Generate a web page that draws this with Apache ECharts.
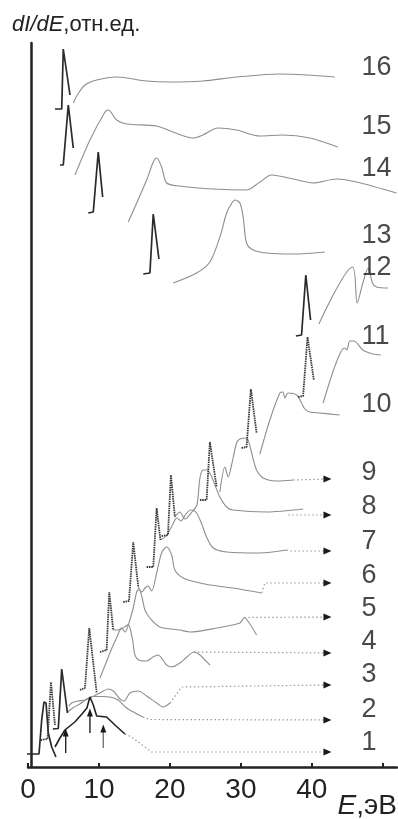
<!DOCTYPE html>
<html>
<head>
<meta charset="utf-8">
<script src="https://cdn.jsdelivr.net/npm/echarts@6/dist/echarts.min.js"></script>
<style>
html, body { margin: 0; padding: 0; background: #fff; }
#chart { width: 398px; height: 819px; }
</style>
</head>
<body>
<div id="chart"></div>
<script>
// energy E (eV) vs dI/dE (rel. units, spectra stacked upward)
var xTicks = [0, 10, 20, 30, 40, 50];
var xLabels = [0, 10, 20, 30, 40];

// sharp primary peaks
var peak1 = [[-0.4,1.3],[1.55,1.3],[1.93,4.7],[2.25,6.5],[2.54,6.4],[2.86,3.4],[3.34,2.0],[3.94,1.0]];
var peak2 = [[1.8,2.7],[2.75,2.8],[3.24,8.5],[3.45,8.45],[3.8,4.2]];
var peak3 = [[3.5,3.8],[4.27,3.85],[4.75,9.8],[4.93,9.7],[5.56,5.4]];
var peak4 = [[7.32,7.7],[8.03,7.9],[8.63,13.9],[8.87,13.8],[9.68,7.4]];
var peak5 = [[10.14,11.5],[11.08,11.7],[11.45,17.5],[11.69,17.5],[12.01,13.7]];
var peak6 = [[13.42,16.5],[14.23,16.6],[14.83,22.5],[15.07,22.5],[15.54,18.0]];
var peak7 = [[16.72,20.0],[17.65,20.0],[18.13,25.9],[18.35,25.8],[18.66,22.7]];
var peak8 = [[18.83,23.1],[19.72,23.2],[20.14,29.2],[20.35,29.1],[20.7,25.0]];
var peak9 = [[24.23,26.7],[25.17,26.7],[25.63,32.5],[25.85,32.5],[26.58,28.0]];
var peak10 = [[30.1,31.9],[30.8,32.0],[31.41,37.8],[31.62,37.7],[32.21,33.4]];
var peak11 = [[38.07,37.0],[38.77,37.1],[39.39,43.0],[39.65,42.9],[40.28,38.7]];
var peak12 = [[37.75,43.1],[38.55,43.2],[39.15,49.2],[39.37,49.1],[39.82,44.7]];
var peak13 = [[16.24,49.3],[17.18,49.4],[17.65,55.3],[17.89,55.2],[18.45,50.8]];
var peak14 = [[8.49,55.4],[9.2,55.5],[9.9,61.5],[10.07,61.5],[10.52,57.0]];
var peak15 = [[4.51,60.2],[4.97,60.2],[5.68,66.2],[5.85,66.1],[6.38,61.9]];
var peak16 = [[3.8,65.8],[4.75,65.8],[4.97,71.8],[5.14,71.7],[5.92,67.2]];

// loss structures
var loss1 = [[3.8,2.0],[4.5,2.9],[5.2,3.7],[6.6,4.5],[7.6,5.3],[8.3,5.9],[8.73,7.0],[9.2,6.2],[9.68,5.1],[11.08,5.0],[12.25,4.2],[13.66,3.3]];
var loss2 = [[5.6,5.5],[6.3,5.9],[7.3,6.3],[8.3,6.8],[9.15,7.05],[10.4,7.05],[11.55,7.0],[12.7,6.7],[13.9,5.9],[15.1,5.4],[16.2,5.0]];
var loss3 = [[5.77,6.1],[6.15,6.4],[7.04,6.6],[8.03,6.7],[8.97,7.0],[10.14,7.4],[11.31,7.8],[12.01,7.6],[12.96,6.8],[13.52,6.6],[14.37,7.4],[15.54,7.6],[16.72,7.1],[18.13,6.4],[19.06,6.0],[20.0,6.4]];
var loss4 = [[10.14,8.9],[10.99,10.4],[11.83,11.9],[12.54,13.0],[12.96,13.7],[13.38,13.9],[13.8,14.1],[14.13,14.25],[14.44,13.7],[14.79,12.5],[15.07,11.2],[15.77,10.65],[16.76,10.6],[17.61,11.0],[18.35,11.2],[19.01,10.7],[19.54,10.2],[20.28,10.0],[21.41,10.4],[22.39,11.0],[23.38,11.5],[24.23,11.2],[24.93,10.7],[25.63,10.2]];
var loss5 = [[12.01,13.7],[12.72,13.7],[13.2,13.9],[13.66,13.5],[14.13,14.2],[14.83,15.9],[15.31,17.5],[15.63,17.8],[16.06,17.0],[16.48,15.7],[17.18,14.9],[18.59,14.0],[21.41,13.7],[22.82,13.5],[26.58,13.9],[29.86,14.4],[30.49,14.95],[31.27,14.3],[32.21,13.2]];
var loss6 = [[15.54,18.0],[16.06,17.5],[16.48,17.9],[16.94,18.1],[17.42,17.6],[18.13,19.4],[18.83,21.4],[19.54,22.0],[20.24,21.2],[20.7,19.7],[21.87,18.9],[24.23,18.4],[25.63,18.2],[28.87,17.9],[32.92,17.4]];
var loss7 = [[18.66,22.7],[19.44,23.1],[20.28,24.1],[20.99,24.9],[21.55,24.6],[22.25,25.3],[22.96,25.7],[23.66,25.5],[24.37,24.5],[25.17,23.0],[26.1,21.9],[27.99,21.5],[32.68,21.4],[36.44,21.7]];
var loss8 = [[20.7,25.0],[21.41,25.5],[22.11,24.8],[23.1,25.5],[23.8,26.2],[24.23,28.9],[24.65,29.7],[25.21,29.7],[25.77,29.2],[26.34,28.2],[27.04,27.0],[27.99,26.0],[28.87,25.7],[33.62,25.5],[38.77,25.8]];
var loss9 = [[27.04,27.5],[27.75,30.0],[28.21,29.0],[28.69,30.2],[29.39,32.4],[29.86,32.8],[30.8,32.9],[31.27,32.1],[31.69,30.9],[32.21,29.7],[33.14,28.9],[35.03,28.6],[37.37,28.7]];
var loss10 = [[32.68,31.3],[34.08,34.7],[35.49,37.4],[35.92,37.5],[36.2,36.9],[36.66,37.4],[37.85,37.2],[38.55,36.4],[39.01,35.8],[39.72,35.5],[41.13,35.4],[43.94,35.2]];
var loss11 = [[41.59,36.4],[42.96,39.5],[44.08,41.5],[44.65,41.9],[44.93,41.7],[45.35,42.6],[45.92,42.6],[47.18,41.7],[48.59,41.3],[49.72,41.2]];
var loss12 = [[40.99,44.3],[45.73,50.0],[46.38,46.4],[47.23,48.5],[47.93,49.9],[48.55,48.4],[49.11,48.0],[50.75,47.9]];
var loss13 = [[20.46,48.4],[23.76,49.4],[25.63,50.5],[27.04,53.0],[27.99,55.4],[28.73,56.4],[29.15,56.7],[29.86,56.4],[30.32,55.0],[30.8,52.4],[31.73,51.7],[33.62,51.4],[37.37,51.3],[41.83,51.5]];
var loss14 = [[14.13,54.5],[16.72,58.7],[17.65,60.5],[18.13,60.9],[18.83,60.0],[19.54,58.4],[21.41,58.1],[26.1,57.8],[30.8,57.7],[32.68,58.5],[34.32,59.2],[37.37,58.8],[40.18,58.4],[43.48,58.8],[46.3,58.5],[51.93,57.4]];
var loss15 = [[6.62,59.2],[8.73,62.7],[10.85,65.5],[11.31,65.7],[12.49,64.7],[13.9,64.3],[18.13,64.1],[20.42,63.5],[23.24,62.9],[24.65,63.2],[26.76,63.9],[29.39,63.7],[32.68,63.1],[35.92,63.2],[39.72,62.9],[43.66,62.0]];
var loss16 = [[6.38,66.4],[7.04,67.3],[8.03,68.2],[9.68,68.7],[12.49,69.0],[16.72,68.6],[20.0,68.5],[24.65,68.6],[29.39,69.0],[35.49,69.3],[39.25,69.2],[43.24,69.0]];

// dotted continuations ending in arrows
var tail1 = [[13.66,3.3],[14.6,3.0],[17.4,1.5],[42.2,1.5]];
var tail2 = [[16.2,5.0],[17.2,4.75],[42.2,4.7]];
var tail3 = [[20.0,6.4],[21.65,8.0],[42.2,8.2]];
var tail4 = [[23.38,11.5],[42.2,11.4]];
var tail5 = [[30.49,14.95],[42.2,15.0]];
var tail6 = [[32.92,17.4],[33.38,18.4],[42.2,18.4]];
var tail7 = [[36.44,21.7],[36.9,21.6],[42.2,21.6]];
var tail8 = [[36.66,25.2],[42.2,25.2]];
var tail9 = [[37.37,28.7],[42.2,28.8]];

// upward marker arrows under spectrum 1
var markA = [[5.31,1.4],[5.31,3.45]];
var markB = [[8.73,3.4],[8.73,5.45]];
var markC = [[10.61,1.9],[10.61,3.85]];

var curveNames = ['1','2','3','4','5','6','7','8','9','10','11','12','13','14','15','16'];
var nameE = 47.0;
var nameI = [2.4,5.7,9.2,12.5,15.8,19.1,22.5,26.0,29.4,36.2,43.0,49.9,53.1,59.8,64.0,69.9];

var solidPeaks = [peak1, peak3, peak12, peak13, peak14, peak15, peak16];
var dottedPeaks = [peak2, peak4, peak5, peak6, peak7, peak8, peak9, peak10, peak11];
var grayLosses = [loss2, loss3, loss4, loss5, loss6, loss7, loss8, loss9, loss10, loss11, loss12, loss13, loss14, loss15, loss16];
var tails = [tail1, tail2, tail3, tail4, tail5, tail6, tail7, tail8, tail9];

function withHead(data, rotate, size) {
    var d = data.slice();
    d[d.length - 1] = {
        value: d[d.length - 1],
        symbol: 'triangle',
        symbolSize: size,
        symbolRotate: rotate,
        itemStyle: {color: '#1a1a1a'}
    };
    return d;
}

function line(data, lineStyle, smooth, z) {
    return {
        type: 'line',
        data: data,
        symbol: 'none',
        showSymbol: true,
        smooth: smooth,
        clip: false,
        silent: true,
        z: z,
        lineStyle: lineStyle
    };
}

var series = [];
grayLosses.forEach(function (d) {
    series.push(line(d, {color: '#8e8e8e', width: 1.1}, 0.3, 2));
});
series.push(line(loss1, {color: '#222', width: 1.6}, false, 3));
tails.forEach(function (d) {
    series.push(line(withHead(d, -90, [7, 8]), {color: '#9a9a9a', width: 1.2, type: [1.5, 2.5]}, false, 2));
});
solidPeaks.forEach(function (d) {
    series.push(line(d, {color: '#2a2a2a', width: 1.7}, false, 4));
});
dottedPeaks.forEach(function (d) {
    series.push(line(d, {color: '#383838', width: 1.8, type: [1.5, 0.8]}, false, 4));
});
series.push(line(withHead(markA, 0, [6, 8]), {color: '#222', width: 1.4}, false, 5));
series.push(line(withHead(markB, 0, [6, 8]), {color: '#222', width: 1.4}, false, 5));
series.push(line(withHead(markC, 0, [6, 8]), {color: '#777', width: 1.4}, false, 5));

series.push({
    type: 'scatter',
    silent: true,
    symbolSize: 0,
    z: 6,
    data: curveNames.map(function (n, i) { return [nameE, nameI[i], n]; }),
    label: {
        show: true,
        position: 'right',
        distance: 0,
        formatter: function (p) { return p.value[2]; },
        fontSize: 27,
        fontFamily: 'Liberation Sans',
        color: '#1a1a1a'
    }
});

var chart = echarts.init(document.getElementById('chart'));
chart.setOption({
    animation: false,
    backgroundColor: '#fff',
    grid: {left: 28, right: 1, top: 43, bottom: 52, outerBoundsMode: 'none'},
    xAxis: {
        type: 'value',
        min: 0,
        max: 52,
        interval: 10,
        splitLine: {show: false},
        axisLine: {lineStyle: {color: '#222', width: 2.5}},
        axisTick: {inside: true, length: 4, customValues: xTicks, lineStyle: {color: '#222', width: 2}},
        axisLabel: {customValues: xLabels, fontSize: 28, margin: 9, color: '#222', fontFamily: 'Liberation Sans'}
    },
    yAxis: {
        type: 'value',
        min: 0,
        max: 72.4,
        offset: -3,
        splitLine: {show: false},
        axisTick: {show: false},
        axisLabel: {show: false},
        axisLine: {show: true, lineStyle: {color: '#222', width: 2.5}}
    },
    graphic: [
        {
            type: 'text', left: 12, top: 14,
            style: {
                text: '{i|dI/dE},отн.ед.',
                fontSize: 22, fontFamily: 'Liberation Sans', fill: '#222',
                rich: {i: {fontStyle: 'italic', fontSize: 22, fontFamily: 'Liberation Sans', fill: '#222'}}
            }
        },
        {
            type: 'text', right: 1, top: 792,
            style: {
                text: '{i|E},эВ',
                fontSize: 28, fontFamily: 'Liberation Sans', fill: '#222',
                rich: {i: {fontStyle: 'italic', fontSize: 28, fontFamily: 'Liberation Sans', fill: '#222'}}
            }
        }
    ],
    series: series
});
</script>
</body>
</html>
